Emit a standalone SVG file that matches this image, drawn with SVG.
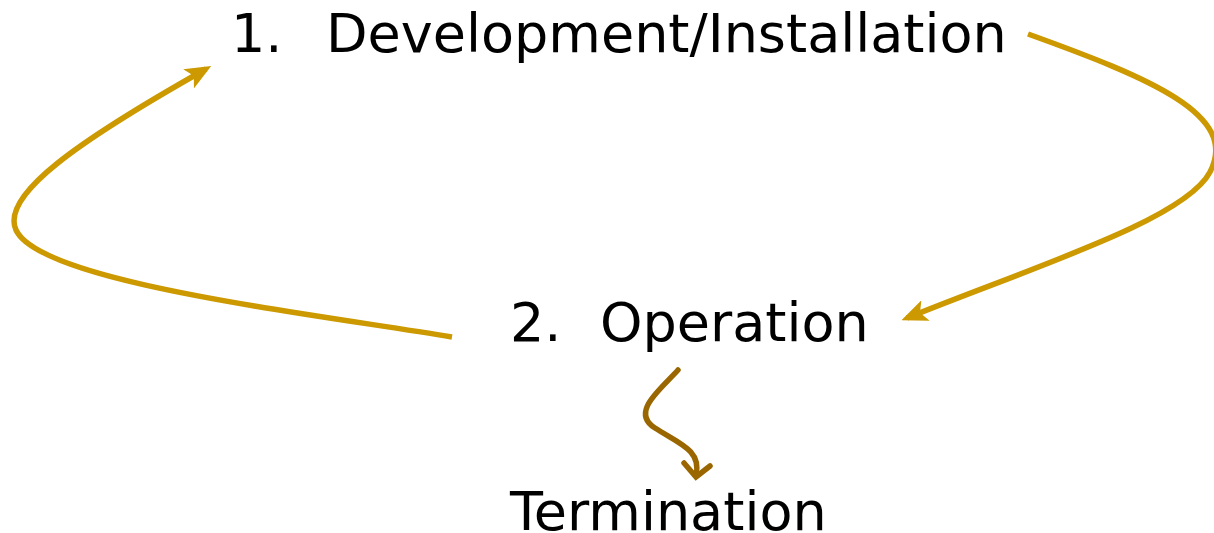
<svg xmlns="http://www.w3.org/2000/svg" width="1214" height="533" viewBox="0 0 1214 533">
  <style>
    .label { font-family: "DejaVu Sans", Verdana, sans-serif; font-size: 54px; fill: #000; }
    .cycle { fill: none; stroke: #CC9900; stroke-width: 5.5; }
    .exit { fill: none; stroke: #996600; stroke-width: 5.5; stroke-linecap: round; stroke-linejoin: miter; }
  </style>
  <defs>
    <!-- filled notched head; the line stops 6px behind the tip -->
    <marker id="gold-head" markerUnits="userSpaceOnUse" markerWidth="26" markerHeight="22" refX="20" refY="11" orient="auto" viewBox="0 0 26 22">
      <path d="M0,0 L26,11 L0,22 L6,11 Z" fill="#CC9900"/>
    </marker>
  </defs>

  <g id="connectors">
    <!-- right loop: development back down to operation -->
    <path class="cycle" d="M1028,34 C1150,78 1240,115 1210,172 C1185,220 1030,268 907,318" marker-end="url(#gold-head)"/>
    <!-- left loop: operation back up to development -->
    <path class="cycle" d="M452,337 C300,312 40,282 16,230 C0,195 80,140 206,69" marker-end="url(#gold-head)"/>
    <!-- exit to termination -->
    <path class="exit" d="M678,370 C660,390 630,412 655,428 C678,443 702,450 696,475"/>
    <polyline class="exit" points="684,463 696,477 710,466"/>
  </g>

  <g id="node-development">
    <text class="label" x="231" y="52">1.</text>
    <text class="label" x="326" y="52">Development/Installation</text>
  </g>
  <g id="node-operation">
    <text class="label" x="510" y="341">2.</text>
    <text class="label" x="600" y="341">Operation</text>
  </g>
  <g id="node-termination">
    <text class="label" x="510" y="530">Termination</text>
  </g>
</svg>
